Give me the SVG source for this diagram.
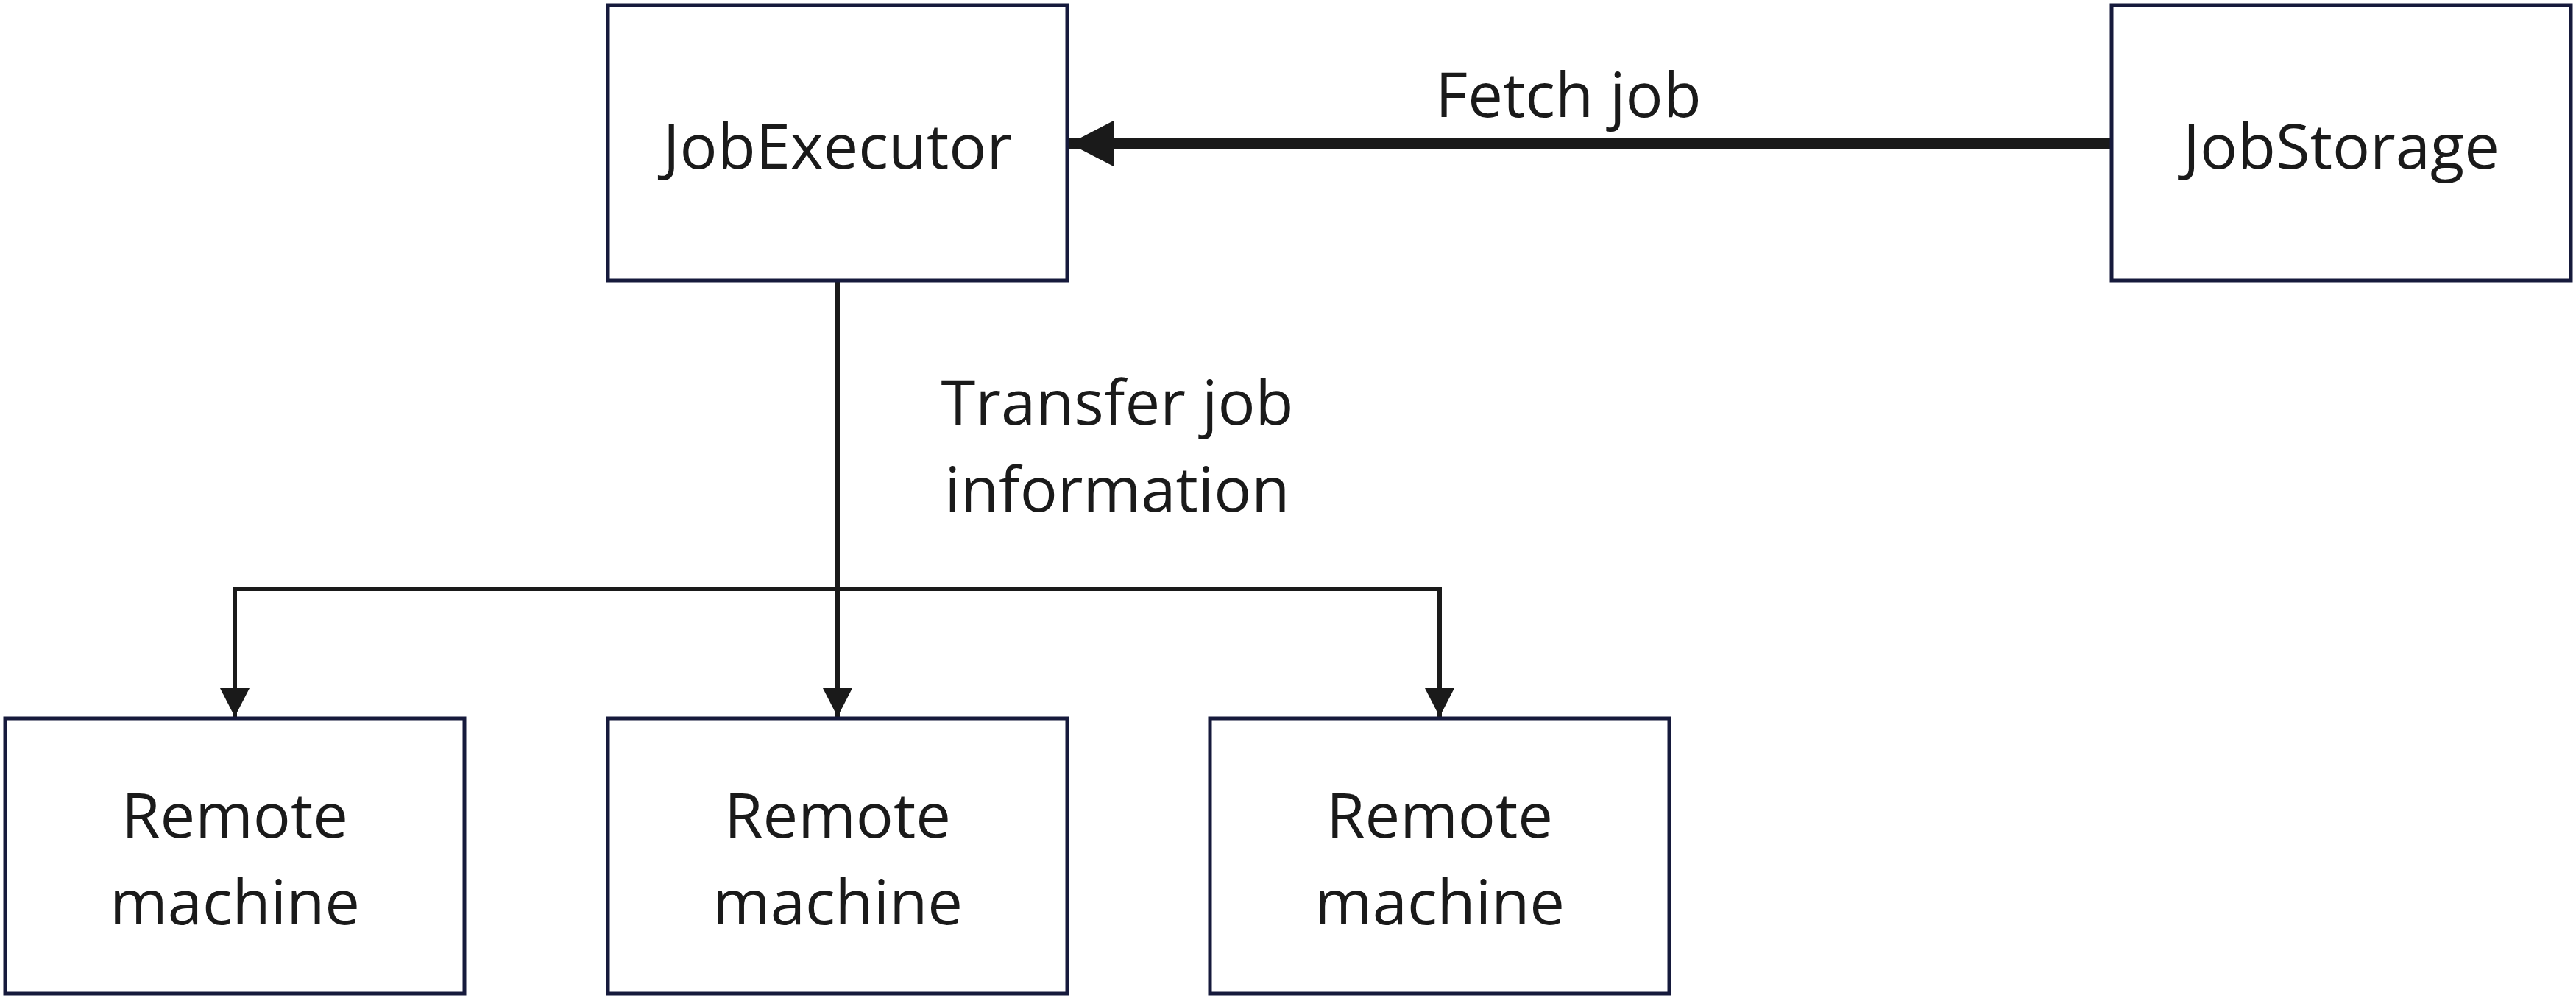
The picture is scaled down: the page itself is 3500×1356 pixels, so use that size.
<svg xmlns="http://www.w3.org/2000/svg" width="3500" height="1356" viewBox="0 0 3500 1356">
  <style>
    .box { fill: #ffffff; stroke: #161a3c; stroke-width: 5; }
    .lbl { font-family: "Open Sans", "Noto Sans", "Liberation Sans", sans-serif; font-size: 85px; fill: #1a1a1a; text-anchor: middle; }
    .thin { fill: none; stroke: #1a1a1a; stroke-width: 6; }
    .thick { fill: none; stroke: #1a1a1a; stroke-width: 16; }
  </style>
  <defs>
    <marker id="arrowDown" markerUnits="userSpaceOnUse" markerWidth="40" markerHeight="40" refX="35" refY="18" orient="auto" viewBox="0 0 36 36">
      <path d="M0,0 L35,18 L0,36 Z" fill="#1a1a1a"/>
    </marker>
    <marker id="arrowBig" markerUnits="userSpaceOnUse" markerWidth="62" markerHeight="64" refX="60" refY="31" orient="auto" viewBox="0 0 62 62">
      <path d="M0,0 L60,31 L0,62 Z" fill="#1a1a1a"/>
    </marker>
  </defs>
  <rect width="3500" height="1356" fill="#ffffff"/>

  <g id="connectors">
    <line class="thick" x1="2869" y1="195" x2="1453" y2="195" marker-end="url(#arrowBig)"/>
    <text class="lbl" x="2131" y="159">Fetch job</text>
    <line class="thin" x1="1138" y1="381" x2="1138" y2="974" marker-end="url(#arrowDown)"/>
    <line class="thin" x1="316" y1="800" x2="1959" y2="800"/>
    <line class="thin" x1="319" y1="800" x2="319" y2="974" marker-end="url(#arrowDown)"/>
    <line class="thin" x1="1956" y1="800" x2="1956" y2="974" marker-end="url(#arrowDown)"/>
    <text class="lbl" x="1518" y="577">Transfer job</text>
    <text class="lbl" x="1518" y="695">information</text>
  </g>

  <g id="JobExecutor">
    <rect class="box" x="826" y="7" width="624" height="374"/>
    <text class="lbl" x="1138" y="229">JobExecutor</text>
  </g>
  <g id="JobStorage">
    <rect class="box" x="2869" y="7" width="624" height="374"/>
    <text class="lbl" x="3181" y="229">JobStorage</text>
  </g>
  <g id="RemoteMachine1">
    <rect class="box" x="7" y="976" width="624" height="374"/>
    <text class="lbl" x="319" y="1138">Remote</text>
    <text class="lbl" x="319" y="1256">machine</text>
  </g>
  <g id="RemoteMachine2">
    <rect class="box" x="826" y="976" width="624" height="374"/>
    <text class="lbl" x="1138" y="1138">Remote</text>
    <text class="lbl" x="1138" y="1256">machine</text>
  </g>
  <g id="RemoteMachine3">
    <rect class="box" x="1644" y="976" width="624" height="374"/>
    <text class="lbl" x="1956" y="1138">Remote</text>
    <text class="lbl" x="1956" y="1256">machine</text>
  </g>
</svg>
